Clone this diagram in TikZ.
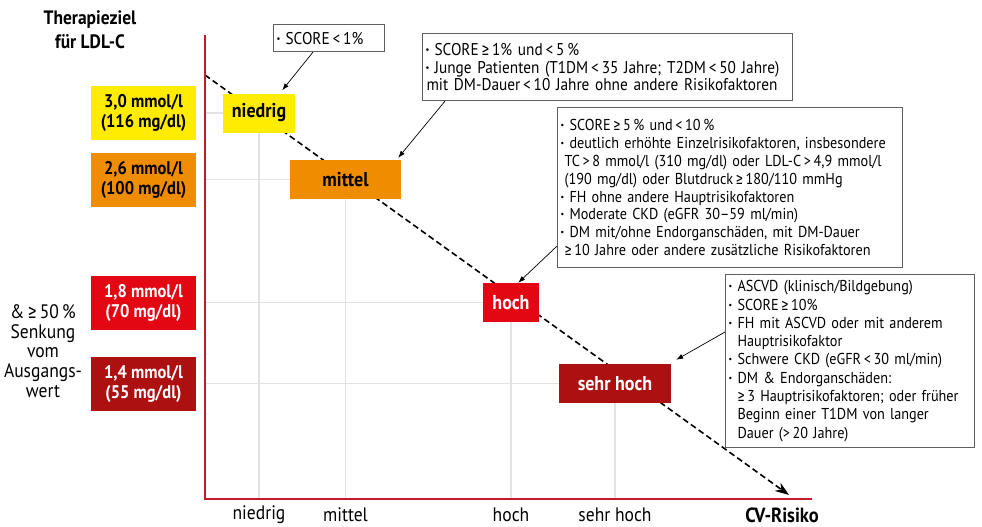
\documentclass[tikz,border=0pt]{standalone}
\usepackage{fontspec}
\setmainfont{PT Sans}[FakeStretch=0.9]
\newfontfamily\zeichenfont{Fira Sans}[FakeStretch=0.9]
\usetikzlibrary{arrows.meta}
\usetikzlibrary{backgrounds}
\definecolor{zielgelb}{RGB}{255,236,0}
\definecolor{zielorange}{RGB}{240,140,0}
\definecolor{zielrot}{RGB}{227,6,19}
\definecolor{zieldunkelrot}{RGB}{172,16,16}
\definecolor{achsenrot}{RGB}{200,24,44}
\definecolor{gitterfarbe}{RGB}{226,226,226}
\definecolor{rahmen}{RGB}{95,95,95}
\newcommand{\pkt}{\makebox[9pt][l]{\textbf{·}}}
\newcommand{\mindestens}{{\zeichenfont ≥}}

\begin{document}
\begin{tikzpicture}[x=1pt,y=-1pt,
    zielwert/.style={minimum width=105pt,minimum height=54pt,inner sep=0pt,
        align=center,font=\fontsize{18.3}{20}\selectfont\bfseries},
    risiko/.style={minimum height=39pt,inner sep=0pt,
        font=\fontsize{20}{20}\selectfont\bfseries},
    hinweis/.style={draw=rahmen,line width=1.1pt,fill=white,anchor=north west,
        inner xsep=3pt,inner ysep=2pt,align=left,
        font=\fontsize{15.8}{17.9}\selectfont},
    zeiger/.style={-{Latex[length=7pt,width=5pt]},line width=0.7pt},
    gitter/.style={gitterfarbe,line width=1.6pt},
    achse/.style={achsenrot,line width=1.8pt},
    trend/.style={-{Stealth[length=14pt,width=10pt]},
        dash pattern=on 6pt off 3.5pt,line width=1.6pt},
    beschriftung/.style={font=\fontsize{19.5}{19.6}\selectfont,align=center}]

\useasboundingbox (0,0) rectangle (982,527);

% axes
\coordinate (ursprung) at (205,499);
\coordinate (links) at (143.5,0);
\draw [achse] (205,35) -- (ursprung) -- (812,499);

% risk boxes
\node [risiko,fill=zielgelb,minimum width=72pt] (niedrig) at (259,113) {niedrig};
\node [risiko,fill=zielorange,minimum width=111pt] (mittel) at (345.5,179.5) {mittel};
\node [risiko,fill=zielrot,text=white,minimum width=56pt] (hoch) at (511,302.5) {hoch};
\node [risiko,fill=zieldunkelrot,text=white,minimum width=112pt] (sehrhoch) at (615,383.5) {sehr hoch};

% target values on the left
\node [zielwert,fill=zielgelb] (ziel30) at (niedrig -| links) {3,0 mmol/l\\(116 mg/dl)};
\node [zielwert,fill=zielorange] (ziel26) at (mittel -| links) {2,6 mmol/l\\(100 mg/dl)};
\node [zielwert,fill=zielrot,text=white] (ziel18) at (hoch -| links) {1,8 mmol/l\\(70 mg/dl)};
\node [zielwert,fill=zieldunkelrot,text=white] (ziel14) at (sehrhoch -| links) {1,4 mmol/l\\(55 mg/dl)};

% grid and trend behind the boxes
\begin{scope}[on background layer]
\foreach \stufe in {niedrig,mittel,hoch,sehrhoch}
    \draw [gitter] (\stufe.center -| ursprung) -- (\stufe.center) -- (\stufe.center |- ursprung);
\coordinate (trendanfang) at (205,75);
\coordinate (trendende) at (789,495);
\draw [trend] (trendanfang) -- (trendende);
\end{scope}

% the criteria
\node [hinweis,font=\fontsize{17}{17.5}\selectfont,text width=105pt,minimum height=27pt] (score1) at (273,24)
    {\pkt SCORE\,<\,1\%};
\node [hinweis,font=\fontsize{17}{17.5}\selectfont,text width=364pt,minimum height=67pt] (score2) at (422,33)
    {\pkt SCORE\,\mindestens\,1\% und\,<\,5\,\%\\
     \pkt Junge Patienten (T1DM\,<\,35 Jahre; T2DM\,<\,50 Jahre)\\
     \hspace*{1pt}mit DM-Dauer\,<\,10 Jahre ohne andere Risikofaktoren};
\node [hinweis,text width=339pt,minimum height=160pt] (score3) at (557,107)
    {\pkt SCORE\,\mindestens\,5\,\% und\,<\,10\,\%\\
     \pkt deutlich erhöhte Einzelrisikofaktoren, insbesondere\\
     \hspace*{4pt}TC\,>\,8 mmol/l (310 mg/dl) oder LDL-C\,>\,4,9 mmol/l\\
     \hspace*{4pt}(190 mg/dl) oder Blutdruck\,\mindestens\,180/110 mmHg\\
     \pkt FH ohne andere Hauptrisikofaktoren\\
     \pkt Moderate CKD (eGFR 30–59 ml/min)\\
     \pkt DM mit/ohne Endorganschäden, mit DM-Dauer\\
     \hspace*{4pt}\mindestens\,10 Jahre oder andere zusätzliche Risikofaktoren};
\node [hinweis,font=\fontsize{15.8}{18.3}\selectfont,text width=243pt,minimum height=173pt] (score4) at (725,274)
    {\pkt ASCVD (klinisch/Bildgebung)\\
     \pkt SCORE\,\mindestens\,10\%\\
     \pkt FH mit ASCVD oder mit anderem\\
     \hspace*{9pt}Hauptrisikofaktor\\
     \pkt Schwere CKD (eGFR\,<\,30 ml/min)\\
     \pkt DM \& Endorganschäden:\\
     \hspace*{9pt}\mindestens\,3 Hauptrisikofaktoren; oder früher\\
     \hspace*{9pt}Beginn einer T1DM von langer\\
     \hspace*{9pt}Dauer (>\,20 Jahre)};

\draw [zeiger] ([xshift=40pt]score1.south west) -- ([xshift=-13pt,yshift=3pt]niedrig.north east);
\draw [zeiger] ([xshift=23pt]score2.south west) -- ([xshift=-3pt,yshift=2pt]mittel.north east);
\draw [zeiger] ([yshift=22pt]score3.south west) -- ([xshift=-21pt]hoch.north east);
\draw [zeiger] ([yshift=-58pt]score4.north west) -- ([xshift=5pt,yshift=4pt]sehrhoch.north east);

% some text
\node [beschriftung,font=\fontsize{19.4}{24}\selectfont\bfseries] (titel) at (90,30) {Therapieziel\\für LDL-C};
\node [beschriftung] (senkung) at (43,351) {\&\,\mindestens\,50\,\%\\Senkung\\vom\\Ausgangs-\\wert};
\foreach \stufe/\wort in {niedrig/niedrig,mittel/mittel,hoch/hoch,sehrhoch/sehr hoch}
    \node [beschriftung,yshift=-16pt] (achse\stufe) at (\stufe.center |- ursprung) {\wort};
\node [beschriftung,font=\fontsize{20.5}{19.6}\selectfont\bfseries] (cvrisiko) at (782,515) {CV-Risiko};

\end{tikzpicture}
\end{document}
